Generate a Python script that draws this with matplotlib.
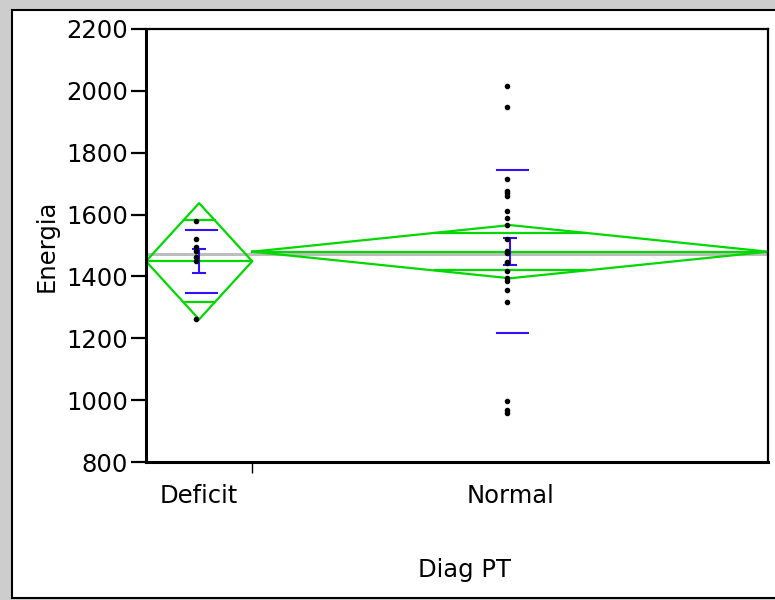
import numpy as np
import matplotlib
matplotlib.use("Agg")
from matplotlib import pyplot as plt
from matplotlib.patches import Rectangle

# groups and values
groups = ["Deficit", "Normal"]
group_n = [7, 34]
deficit_points = [1580, 1520, 1494, 1483, 1464, 1451, 1263]
normal_points = [2017, 1948, 1714, 1676, 1669, 1660, 1612, 1590, 1565, 1520,
                 1483, 1477, 1448, 1442, 1418, 1394, 1386, 1356, 1317, 998,
                 968, 959]
group_means = [1449, 1480]
ci_half = [188, 86]
std_devs = [101, 264]
std_errs = [39, 43]
grand_mean = 1472

yticks = [800, 1000, 1200, 1400, 1600, 1800, 2000, 2200]

GREEN = "#00d800"
BLUE = "#3010ff"


def main():
    fig = plt.figure(figsize=(7.75, 6.0), dpi=100)
    fig.patch.set_facecolor("#cdcdcd")
    fig.add_artist(Rectangle((12 / 775, 2 / 600), 1.0, 588 / 600,
                             transform=fig.transFigure, facecolor="white",
                             edgecolor="black", linewidth=1.5, zorder=0))

    ax = fig.add_axes([146 / 775, 1 - 462 / 600, 622 / 775, 433 / 600])
    ax.set_facecolor("white")

    edges = np.concatenate([[0], np.cumsum(group_n)])
    centers = (edges[:-1] + edges[1:]) / 2
    total = edges[-1]

    ax.axhline(grand_mean, color="#bdbdbd", lw=2.2, zorder=1)

    all_points = [deficit_points, normal_points]
    for i in range(len(groups)):
        c = centers[i]
        hw = group_n[i] / 2
        m = group_means[i]
        h = ci_half[i]
        # means diamond
        ax.plot([c - hw, c, c + hw, c, c - hw], [m, m + h, m, m - h, m],
                color=GREEN, lw=1.6, zorder=2)
        ax.plot([c - hw, c + hw], [m, m], color=GREEN, lw=1.6, zorder=2)
        ow = hw * (1 - 1 / np.sqrt(2))
        for s in (1, -1):
            ax.plot([c - ow, c + ow], [m + s * h / np.sqrt(2)] * 2,
                    color=GREEN, lw=1.6, zorder=2)
        # std dev lines
        for s in (1, -1):
            ax.plot([c - 1.0 + 0.15, c + 1.0 + 0.15], [m + s * std_devs[i]] * 2,
                    color=BLUE, lw=1.5, zorder=3)
        # std error bar
        ax.errorbar([c], [m], yerr=[std_errs[i]], color=BLUE, lw=1.5,
                    capsize=5, capthick=1.5, zorder=3)
        pts = all_points[i]
        ax.plot([c - 0.2] * len(pts), pts, "o", color="black",
                markersize=3, zorder=4)

    ax.set_xlim(0, total)
    ax.set_ylim(800, 2200)
    ax.set_yticks(yticks)
    ax.tick_params(axis="y", length=11, width=1.6, labelsize=17.5, pad=2)
    ax.set_xticks(edges[1:-1])
    ax.set_xticklabels([])
    ax.tick_params(axis="x", which="major", length=8, width=1.0)
    ax.set_xticks(centers, minor=True)
    ax.set_xticklabels(groups, minor=True)
    ax.tick_params(axis="x", which="minor", length=0, labelsize=17.5, pad=16)
    for sp in ax.spines.values():
        sp.set_linewidth(1.6)
    ax.spines["left"].set_linewidth(2.2)
    ax.spines["bottom"].set_linewidth(2.2)

    fig.text(465 / 775, 1 - 570 / 600, "Diag PT", ha="center", va="center",
             fontsize=17.5)
    fig.text(47 / 775, 1 - 246 / 600, "Energia", ha="center", va="center",
             rotation=90, fontsize=17.5)

    fig.savefig("out.png", dpi=100, facecolor=fig.get_facecolor())


if __name__ == '__main__':
    main()
